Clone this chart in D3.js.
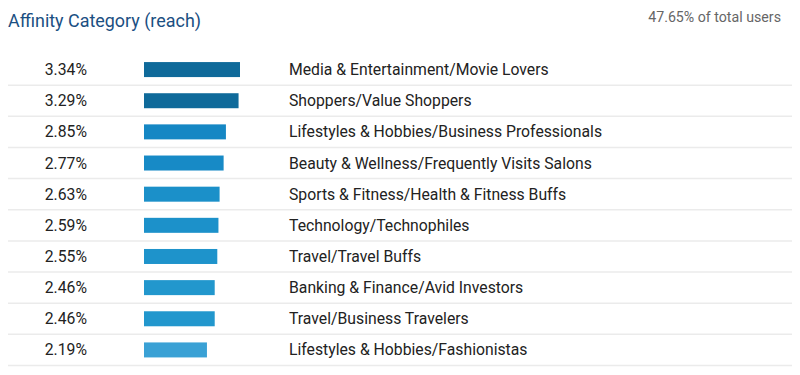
<!DOCTYPE html>
<html>
<head>
<meta charset="utf-8">
<script src="https://cdn.jsdelivr.net/npm/d3@7"></script>
<style>
  body { margin: 0; background: #fff; }
  svg { font-family: Roboto, sans-serif; }
</style>
</head>
<body>
<svg id="chart"></svg>
<script>
// affinity categories and share of users
var categories = [
  "Media & Entertainment/Movie Lovers",
  "Shoppers/Value Shoppers",
  "Lifestyles & Hobbies/Business Professionals",
  "Beauty & Wellness/Frequently Visits Salons",
  "Sports & Fitness/Health & Fitness Buffs",
  "Technology/Technophiles",
  "Travel/Travel Buffs",
  "Banking & Finance/Avid Investors",
  "Travel/Business Travelers",
  "Lifestyles & Hobbies/Fashionistas"
]
var values = [3.34, 3.29, 2.85, 2.77, 2.63, 2.59, 2.55, 2.46, 2.46, 2.19]
var title = "Affinity Category (reach)"
var totalNote = "47.65% of total users"

var width = 800
var height = 375

var svg = d3.select("#chart").attr("width", width).attr("height", height)

var y = d3.scaleBand()
  .domain(d3.range(categories.length))
  .range([54, 365.5])

var x = d3.scaleLinear()
  .domain([0, 3.34])
  .range([144, 240])

var color = d3.scaleLinear()
  .domain([2.19, 2.5, 2.85, 3.0, 3.34])
  .range(["#3aa1d5", "#1f95cc", "#1587c4", "#0f6b99", "#0f6a9a"])

// title + total
svg.append("text")
  .attr("x", 8).attr("y", 26.5)
  .attr("fill", "#1b4f82")
  .attr("textLength", 193)
  .attr("lengthAdjust", "spacingAndGlyphs")
  .style("font-size", "17.6px")
  .text(title)

svg.append("text")
  .attr("x", 781).attr("y", 22)
  .attr("text-anchor", "end")
  .attr("fill", "#666")
  .style("font-size", "14.2px")
  .text(totalNote)

var rows = svg.append("g")
  .selectAll("g")
  .data(values)
  .join("g")
  .attr("transform", (d, i) => `translate(0,${y(i)})`)

// row separators
rows.append("line")
  .attr("x1", 8).attr("x2", 792)
  .attr("y1", y.bandwidth()).attr("y2", y.bandwidth())
  .attr("stroke", "#ebebeb")
  .attr("stroke-width", 1.5)

rows.append("rect")
  .attr("x", x(0))
  .attr("y", y.bandwidth() / 2 - 7.5)
  .attr("width", d => x(d) - x(0))
  .attr("height", 15)
  .attr("fill", d => color(d))

rows.append("text")
  .attr("x", 87)
  .attr("y", y.bandwidth() / 2)
  .attr("dy", "0.35em")
  .attr("text-anchor", "end")
  .attr("fill", "#222")
  .style("font-size", "15.75px")
  .text(d => d.toFixed(2) + "%")

rows.append("text")
  .attr("x", 289)
  .attr("y", y.bandwidth() / 2)
  .attr("dy", "0.35em")
  .attr("fill", "#222")
  .style("font-size", "15.75px")
  .text((d, i) => categories[i])
</script>
</body>
</html>
